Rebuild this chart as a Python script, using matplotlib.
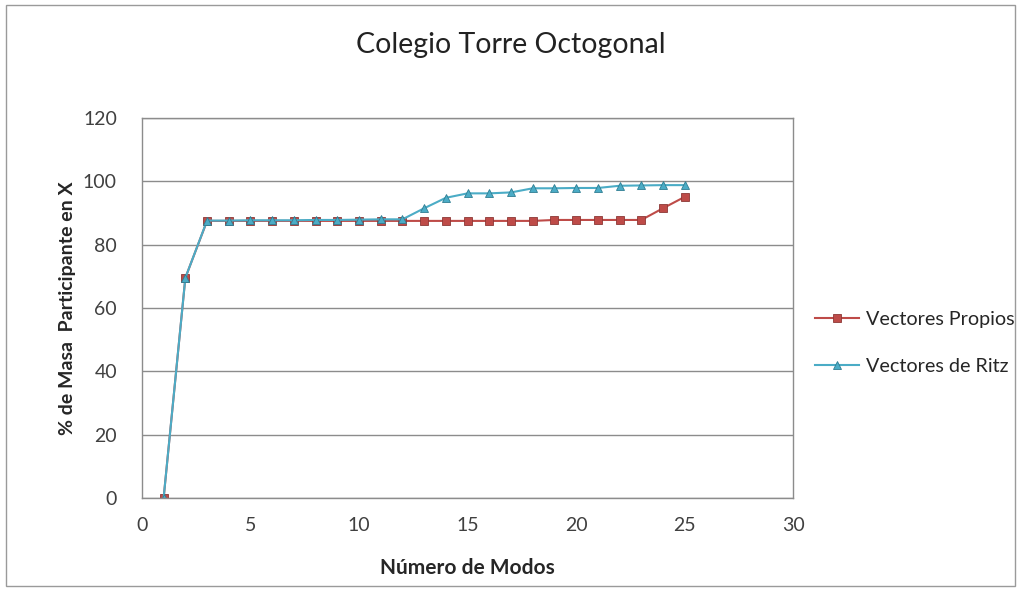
import matplotlib
matplotlib.use("Agg")
import matplotlib.pyplot as plt
from matplotlib.patches import Rectangle

plt.rcParams['font.family'] = ['Lato', 'DejaVu Sans']

modes = list(range(1, 26))
propios = [0, 69.5, 87.5, 87.5, 87.5, 87.5, 87.5, 87.5, 87.5, 87.5, 87.5, 87.5,
           87.5, 87.5, 87.5, 87.5, 87.5, 87.5, 87.8, 87.8, 87.8, 87.8, 87.8, 91.5, 95.1]
ritz = [0, 69.5, 87.6, 87.6, 87.7, 87.7, 87.7, 87.8, 87.8, 87.9, 88.0, 88.0,
        91.5, 94.8, 96.2, 96.2, 96.5, 97.8, 97.8, 97.9, 97.9, 98.6, 98.7, 98.8, 98.8]

title = "Colegio Torre Octogonal"
xlabel = "Número de Modos"
ylabel = "% de Masa  Participante en X"
labels = ["Vectores Propios", "Vectores de Ritz"]
xticks = [0, 5, 10, 15, 20, 25, 30]
yticks = [0, 20, 40, 60, 80, 100, 120]

red = '#BE4B48'
teal = '#4BACC6'

fig = plt.figure(figsize=(10.21, 5.90), dpi=100)
fig.patches.append(Rectangle((0.006, 0.006), 0.988, 0.985, transform=fig.transFigure,
                             fill=False, edgecolor='#9a9a9a', linewidth=1.0))
ax = fig.add_axes([0.139, 0.156, 0.638, 0.644])

ax.plot(modes, propios, color=red, linewidth=1.5, marker='s', markersize=5.5,
        markerfacecolor=red, markeredgecolor='#8c3836', markeredgewidth=0.6, label=labels[0])
ax.plot(modes, ritz, color=teal, linewidth=1.5, marker='^', markersize=5.5,
        markerfacecolor=teal, markeredgecolor='#2f7d92', markeredgewidth=0.6, label=labels[1])

ax.set_xlim(0, 30)
ax.set_ylim(0, 120)
ax.set_xticks(xticks)
ax.set_yticks(yticks)
ax.tick_params(axis='both', labelsize=14, colors='#404040', length=0)
ax.tick_params(axis='x', pad=14)
ax.tick_params(axis='y', pad=18)
ax.yaxis.grid(True, color='#8c8c8c', linewidth=1.0)
ax.set_axisbelow(True)
for s in ax.spines.values():
    s.set_color('#8c8c8c')
    s.set_linewidth(1.0)

ax.set_xlabel(xlabel, fontsize=15, fontweight='bold', color='#262626', labelpad=17)
ax.set_ylabel(ylabel, fontsize=14, fontweight='bold', color='#262626', labelpad=5)
fig.text(0.5, 0.924, title, ha='center', va='center', fontsize=20.5, color='#222222')

fig.legend(loc='center left', bbox_to_anchor=(0.781, 0.419), frameon=False,
           fontsize=14.2, labelspacing=1.5, handlelength=2.2, handletextpad=0.4,
           labelcolor='#262626')

fig.savefig('out.png', dpi=100)
